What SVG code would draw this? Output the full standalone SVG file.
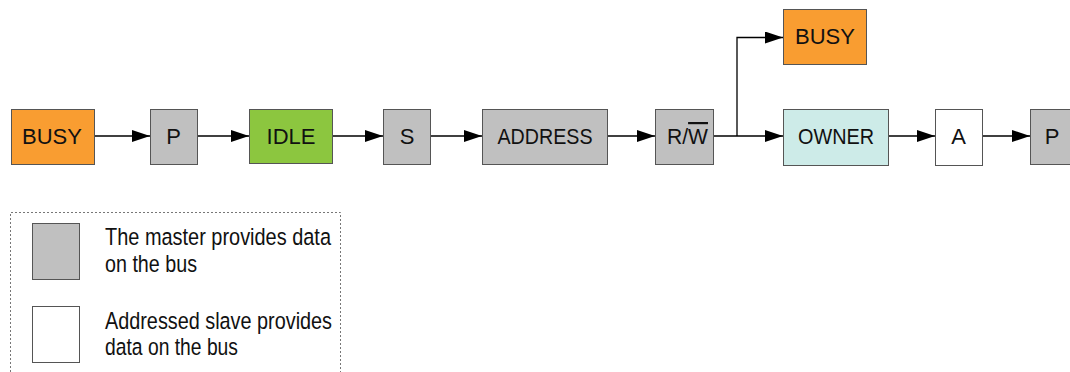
<svg xmlns="http://www.w3.org/2000/svg" width="1070" height="372" viewBox="0 0 1070 372">
<style>
.box{stroke:#555;stroke-width:1}
.gray{fill:#C0C0C0}
.orange{fill:#F99D31}
.green{fill:#8CC63F}
.cyan{fill:#CDEBE8}
.white{fill:#FFFFFF}
text{font-family:"Liberation Sans",Arial,sans-serif;fill:#111}
.lbl{font-size:22px;text-anchor:middle}
.leg{font-size:24.5px}
.conn{fill:none;stroke:#000;stroke-width:1.3}
</style>
<defs>
<marker id="arr" markerUnits="userSpaceOnUse" markerWidth="18" markerHeight="12" refX="18" refY="6" orient="auto">
<path d="M0,0 L18,6 L0,12 Z" fill="#000"/>
</marker>
</defs>
<g id="connectors">
<path class="conn" d="M94,136 H150" marker-end="url(#arr)"/>
<path class="conn" d="M197,136 H249" marker-end="url(#arr)"/>
<path class="conn" d="M333,136 H383" marker-end="url(#arr)"/>
<path class="conn" d="M431,136 H482" marker-end="url(#arr)"/>
<path class="conn" d="M608,136 H655" marker-end="url(#arr)"/>
<path class="conn" d="M714,136 H783" marker-end="url(#arr)"/>
<path class="conn" d="M737,136 V37.5 H783" marker-end="url(#arr)"/>
<path class="conn" d="M889,136 H935" marker-end="url(#arr)"/>
<path class="conn" d="M983,136 H1030" marker-end="url(#arr)"/>
</g>
<g id="busy1"><rect class="box orange" x="11.5" y="109.5" width="83" height="55"/><text class="lbl" x="52" y="144">BUSY</text></g>
<g id="p1"><rect class="box gray" x="150.5" y="109.5" width="47" height="55"/><text class="lbl" x="173.5" y="144">P</text></g>
<g id="idle"><rect class="box green" x="249.5" y="109.5" width="83" height="54"/><text class="lbl" x="291" y="144">IDLE</text></g>
<g id="s"><rect class="box gray" x="383.5" y="109.5" width="47" height="55"/><text class="lbl" x="407" y="144">S</text></g>
<g id="address"><rect class="box gray" x="482.5" y="109.5" width="125" height="55"/><text class="lbl" x="545" y="144" textLength="95" lengthAdjust="spacingAndGlyphs">ADDRESS</text></g>
<g id="rw"><rect class="box gray" x="655.5" y="109.5" width="58" height="55"/><text class="lbl" x="687.5" y="144" textLength="41" lengthAdjust="spacingAndGlyphs">R/<tspan text-decoration="overline">W</tspan></text></g>
<g id="busy2"><rect class="box orange" x="783.5" y="9.5" width="83" height="55"/><text class="lbl" x="825" y="44">BUSY</text></g>
<g id="owner"><rect class="box cyan" x="783.5" y="109.5" width="105" height="56"/><text class="lbl" x="836" y="144" textLength="76" lengthAdjust="spacingAndGlyphs">OWNER</text></g>
<g id="a"><rect class="box white" x="935.5" y="109.5" width="47" height="56"/><text class="lbl" x="958.5" y="144">A</text></g>
<g id="p2"><rect class="box gray" x="1030.5" y="109.5" width="50" height="55"/><text class="lbl" x="1052" y="144">P</text></g>
<g id="legend">
<path d="M10.5,372 V212.5 H340.5 V372" fill="none" stroke="#777" stroke-width="1" stroke-dasharray="2,2"/>
<rect class="box gray" x="32.5" y="223.5" width="47" height="56"/>
<text class="leg" x="105" y="245" textLength="226" lengthAdjust="spacingAndGlyphs">The master provides data</text>
<text class="leg" x="105" y="271.7" textLength="92" lengthAdjust="spacingAndGlyphs">on the bus</text>
<rect class="box white" x="32.5" y="306.5" width="47" height="56"/>
<text class="leg" x="105" y="328.7" textLength="227" lengthAdjust="spacingAndGlyphs">Addressed slave provides</text>
<text class="leg" x="105" y="355" textLength="133" lengthAdjust="spacingAndGlyphs">data on the bus</text>
</g>
</svg>
